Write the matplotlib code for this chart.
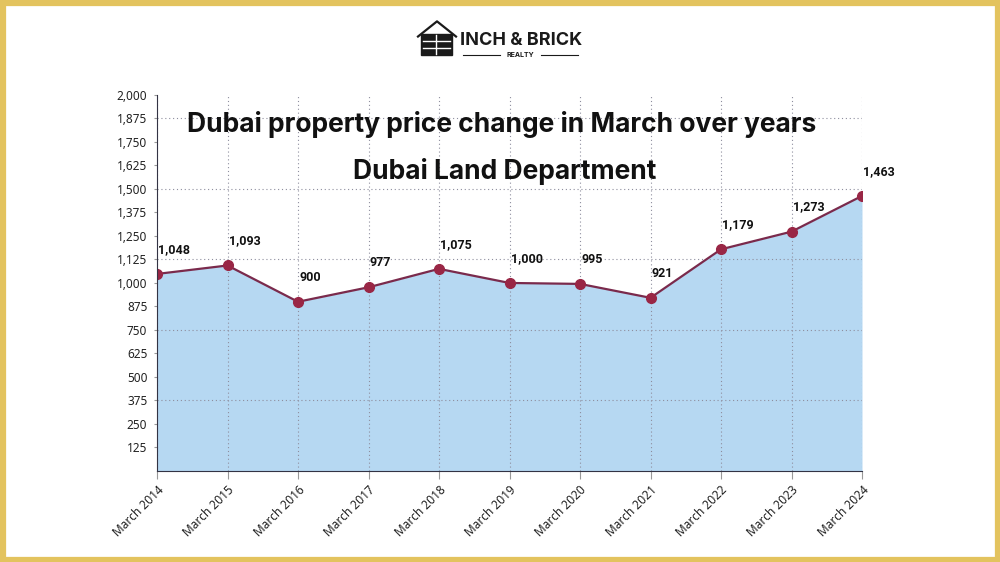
import matplotlib.pyplot as plt
from matplotlib.patches import Rectangle
import numpy as np

years = ["March 2014", "March 2015", "March 2016", "March 2017", "March 2018", "March 2019",
         "March 2020", "March 2021", "March 2022", "March 2023", "March 2024"]
prices = [1048, 1093, 900, 977, 1075, 1000, 995, 921, 1179, 1273, 1463]
y_ticks = [125, 250, 375, 500, 625, 750, 875, 1000, 1125, 1250, 1375, 1500, 1625, 1750, 1875, 2000]

c_fill = "#B6D8F2"
c_line = "#7A2A4C"
c_marker = "#992645"
c_gold = "#E3C35E"
bold_font = ["Inter", "DejaVu Sans"]

plt.rcParams['font.family'] = ["Noto Sans", "DejaVu Sans"]

fig = plt.figure(figsize=(10, 5.62), dpi=100)
fig.patch.set_facecolor("white")

ax = fig.add_axes([0.157, 0.162, 0.705, 0.669])
x = np.arange(len(years))

ax.fill_between(x, prices, 0, color=c_fill, linewidth=0, zorder=1)
ax.plot(x, prices, color=c_line, linewidth=1.6, zorder=3)
ax.plot(x, prices, linestyle="none", marker="o", markersize=7, color=c_marker, zorder=4)

for xi, v in zip(x, prices):
    ax.annotate(f"{v:,}", (xi, v), xytext=(1, 13), textcoords="offset points",
                ha="left", va="bottom", fontsize=9, fontweight="bold", color="#111111",
                family=["Roboto", "DejaVu Sans"])

ax.set_xlim(0, len(years) - 1)
ax.set_ylim(0, 2000)
ax.set_xticks(x)
ax.set_xticklabels(years, rotation=45, ha="right", rotation_mode="anchor", fontsize=8.5, color="#222222")
ax.set_yticks(y_ticks)
ax.set_yticklabels([f"{t:,}" for t in y_ticks], fontsize=8.5, color="#222222")

# vertical grid at every category, horizontal only every 375
for xi in x:
    ax.axvline(xi, color="#8E8E9E", linestyle=(0, (1, 2.5)), linewidth=0.8, zorder=2)
for yv in [375, 750, 1125, 1500, 1875]:
    ax.axhline(yv, color="#8E8E9E", linestyle=(0, (1, 2.5)), linewidth=0.8, zorder=2)

for s in ["top", "right"]:
    ax.spines[s].set_visible(False)
ax.spines["left"].set_color("#333344")
ax.spines["bottom"].set_color("#333344")
ax.spines["left"].set_zorder(5)
ax.spines["bottom"].set_zorder(5)
ax.tick_params(axis="y", length=2, color="#999999", pad=5)
ax.tick_params(axis="x", length=6, color="#999999", pad=3)
ax.set_facecolor("none")

fig.text(0.502, 0.779, "Dubai property price change in March over years", ha="center", va="center",
         fontsize=19, fontweight="bold", color="#111111", family=bold_font)
fig.text(0.505, 0.695, "Dubai Land Department", ha="center", va="center",
         fontsize=19, fontweight="bold", color="#111111", family=bold_font)

# logo
fig.text(0.46, 0.928, "INCH & BRICK", ha="left", va="center", fontsize=13, fontweight="bold",
         color="#1A1A1A", family=bold_font)
fig.text(0.52, 0.902, "REALTY", ha="center", va="center", fontsize=5, fontweight="bold",
         color="#1A1A1A", family=bold_font)
fig.add_artist(plt.Line2D([0.463, 0.500], [0.902, 0.902], color="#1A1A1A", linewidth=0.8))
fig.add_artist(plt.Line2D([0.541, 0.578], [0.902, 0.902], color="#1A1A1A", linewidth=0.8))
fig.add_artist(plt.Line2D([0.418, 0.437, 0.456], [0.935, 0.962, 0.935], color="#1A1A1A", linewidth=1.6))
fig.add_artist(Rectangle((0.421, 0.902), 0.031, 0.038, color="#1A1A1A", transform=fig.transFigure))
for yy in [0.915, 0.927]:
    fig.add_artist(plt.Line2D([0.423, 0.450], [yy, yy], color="white", linewidth=1.0))
fig.add_artist(plt.Line2D([0.436, 0.436], [0.904, 0.938], color="white", linewidth=1.0))

# gold frame
fig.add_artist(Rectangle((0.0025, 0.004), 0.995, 0.991, fill=False, edgecolor=c_gold,
                         linewidth=4.5, transform=fig.transFigure))

fig.savefig("out.png", dpi=100)
